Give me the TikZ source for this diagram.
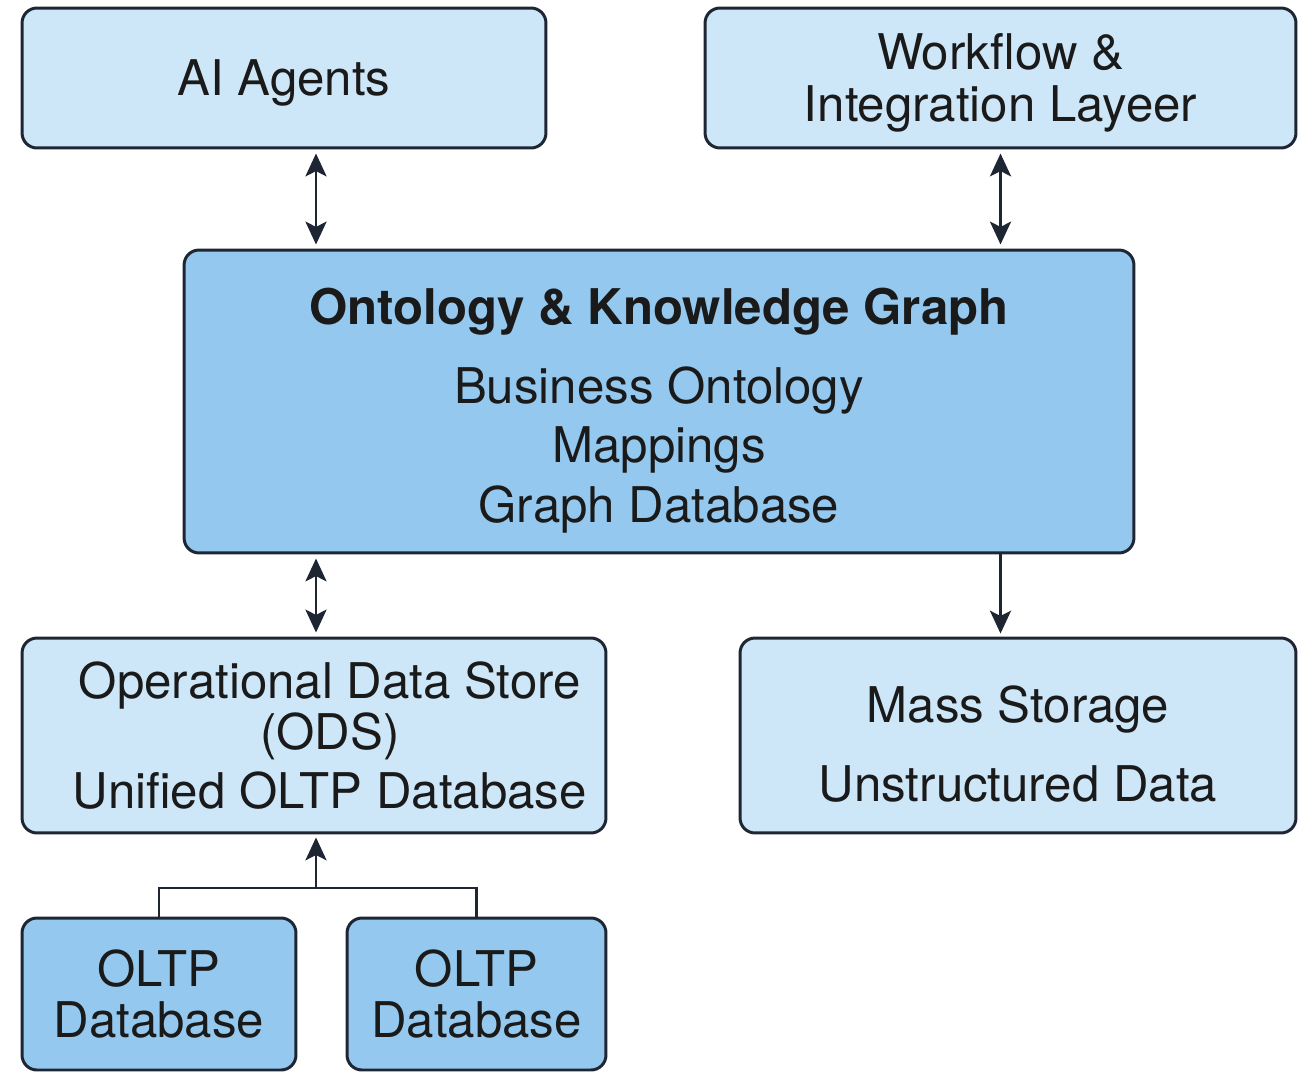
\documentclass[tikz,border=0pt]{standalone}
\usepackage{fontspec}
\setmainfont{TeX Gyre Heros}
\usetikzlibrary{arrows.meta}
\definecolor{boxlight}{HTML}{CDE6F8}
\definecolor{boxdark}{HTML}{94C8EE}
\definecolor{edge}{HTML}{1E2533}
\definecolor{ink}{HTML}{1A1A1A}
\newcommand{\lift}{\rule{0pt}{31pt}}
\begin{document}
\begin{tikzpicture}[x=0.02cm,y=-0.02cm,
	box/.style={draw=edge,line width=1.7pt,rounded corners=8.5pt,fill=boxlight,text=ink,
		align=center,inner sep=0pt,font=\fontsize{28}{34}\selectfont},
	dbbox/.style={box,fill=boxdark},
	link/.style={draw=edge,line width=1.5pt,{Stealth[length=13pt,width=12pt,inset=3pt]}-{Stealth[length=13pt,width=12pt,inset=3pt]},shorten <=2.3pt,shorten >=2.3pt},
	feed/.style={draw=edge,line width=1.5pt,-{Stealth[length=13pt,width=12pt,inset=3pt]},shorten >=1.7pt}]
\useasboundingbox (0,0) rectangle (1307,1074);
\fill[white] (0,0) rectangle (1307,1074);
\node[box,minimum width=10.48cm,minimum height=2.8cm] (agents) at (284,78) {\rule{0pt}{26.5pt}AI Agents};
\node[box,minimum width=11.82cm,minimum height=2.8cm] (flow) at (1000.5,78) {\rule{0pt}{26pt}Workflow \&\\[-4.5pt]Integration Layeer};
\node[dbbox,minimum width=19cm,minimum height=6.06cm] (onto) at (659,401.5)
	{\lift{\bfseries Ontology \& Knowledge Graph}\\[11pt]Business Ontology\\[0pt]Mappings\\[0pt]Graph Database};
\node[box,minimum width=11.68cm,minimum height=3.9cm] (ods) at (314,735.5)
	{\hspace*{18pt}Operational Data Store\\[-5pt]\hspace*{18pt}(ODS)\\[0pt]\hspace*{18pt}Unified OLTP Database};
\node[box,minimum width=11.12cm,minimum height=3.9cm] (mass) at (1018,735.5)
	{\lift Mass Storage\\[11pt]Unstructured Data};
\node[dbbox,minimum width=5.48cm,minimum height=3.04cm] (db1) at (159,994) {OLTP\\[-5.5pt]Database};
\node[dbbox,minimum width=5.18cm,minimum height=3.04cm] (db2) at (476.5,994) {OLTP\\[-5.5pt]Database};
\coordinate (join) at (316,888);
\draw[link] (agents.south -| join) -- (onto.north -| join);
\draw[link] (flow.south) -- (onto.north -| flow.south);
\draw[link] (onto.south -| join) -- (ods.north -| join);
\draw[feed] (onto.south -| flow.south) -- (mass.north -| flow.south);
\draw[draw=edge,line width=1.5pt] (db1.north) |- (join) -| (db2.north);
\draw[feed] (join) -- (ods.south -| join);
\end{tikzpicture}
\end{document}
